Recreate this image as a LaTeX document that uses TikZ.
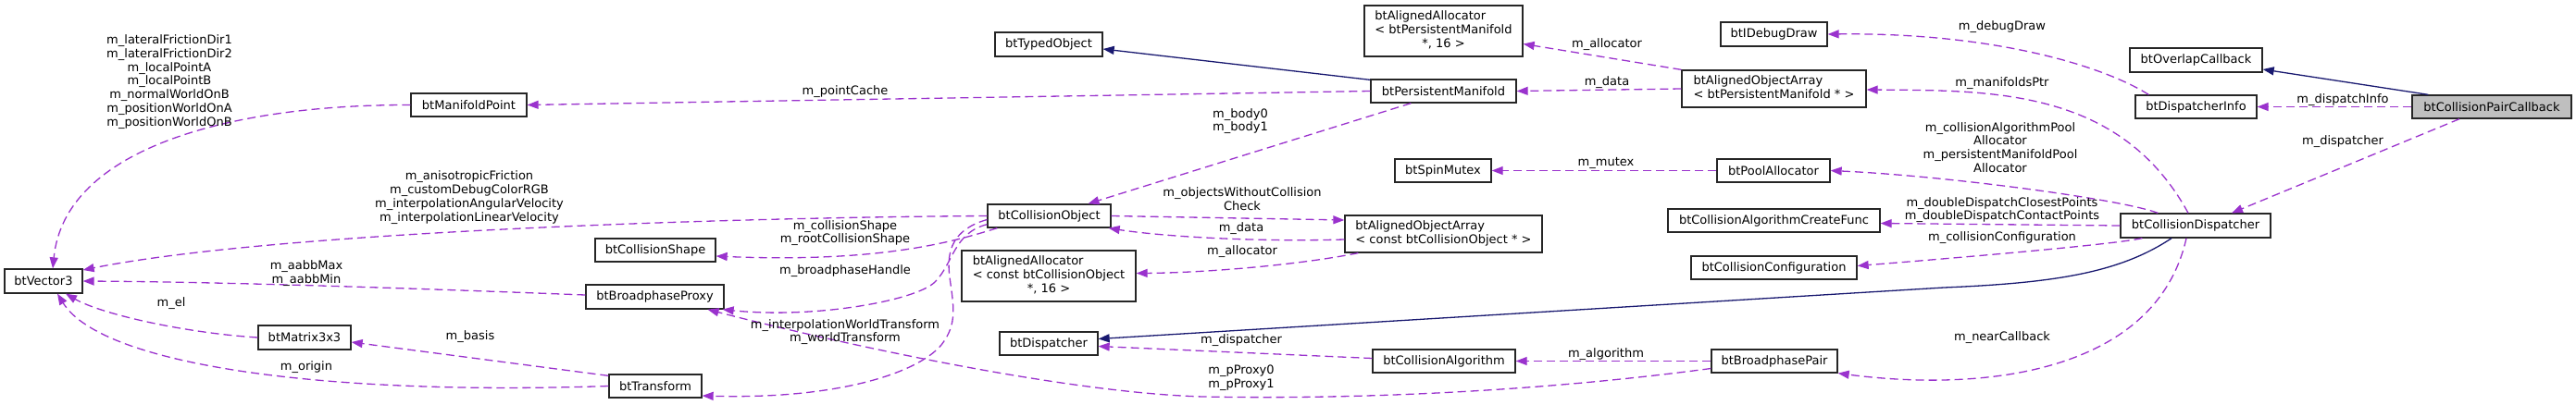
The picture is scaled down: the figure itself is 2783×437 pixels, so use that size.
\documentclass[tikz,border=0pt]{standalone}
\usepackage{fontspec}
\setmainfont{DejaVu Sans}
\usetikzlibrary{arrows.meta,calc}
\definecolor{depcol}{HTML}{9A32CD}
\definecolor{inhcol}{HTML}{191970}
\definecolor{rootfill}{HTML}{BFBFBF}
\newcommand{\dfont}{\fontsize{13}{14.8}\selectfont}
\begin{document}
\begin{tikzpicture}[x=1pt,y=-1pt,
  cls/.style={draw=black!85, fill=white, line width=1.3pt, inner sep=0pt, font=\dfont, minimum height=25pt},
  rootcls/.style={cls, fill=rootfill},
  dep/.style={color=depcol, line width=1.3pt, dash pattern=on 9pt off 5pt, -{Triangle[length=12pt,width=9pt]}},
  inh/.style={color=inhcol, line width=1.3pt, -{Triangle[length=12pt,width=9pt]}},
  lbl/.style={font=\dfont, align=center, inner sep=0pt}]
\useasboundingbox (0,0) rectangle (2783,437);

% classes
\node[cls, minimum width=84pt, minimum height=26pt] (vec) at (47,304) {btVector3};
\node[cls, minimum width=125pt] (mp) at (506.5,113.5) {btManifoldPoint};
\node[cls, minimum width=100pt, minimum height=26pt] (mat) at (329,365) {btMatrix3x3};
\node[cls, minimum width=100pt] (tr) at (708,417.5) {btTransform};
\node[cls, minimum width=149pt, minimum height=26pt] (bp) at (707.5,321) {btBroadphaseProxy};
\node[cls, minimum width=130pt] (cs) at (708,270.5) {btCollisionShape};
\node[cls, minimum width=133pt] (co) at (1133.5,233.5) {btCollisionObject};
\node[cls, minimum width=116pt, minimum height=26pt] (to) at (1133,48) {btTypedObject};
\node[cls, minimum width=188pt, minimum height=55pt] (aacol) at (1133,298.5)
  {\begin{tabular}{@{}l@{}}btAlignedAllocator\\< const btCollisionObject\\\multicolumn{1}{@{}c@{}}{*, 16 >}\end{tabular}};
\node[cls, minimum width=106pt] (disp) at (1133,371.5) {btDispatcher};
\node[cls, minimum width=157pt] (pm) at (1559.5,98.5) {btPersistentManifold};
\node[cls, minimum width=171pt, minimum height=55pt] (aapm) at (1559.5,33.5)
  {\begin{tabular}{@{}l@{}}btAlignedAllocator\\< btPersistentManifold\\\multicolumn{1}{@{}c@{}}{*, 16 >}\end{tabular}};
\node[cls, minimum width=104pt] (sm) at (1559,184.5) {btSpinMutex};
\node[cls, minimum width=213pt, minimum height=40pt] (oacol) at (1559.5,253)
  {\begin{tabular}{@{}l@{}}btAlignedObjectArray\\< const btCollisionObject * >\end{tabular}};
\node[cls, minimum width=154pt] (ca) at (1560,390.5) {btCollisionAlgorithm};
\node[cls, minimum width=115pt, minimum height=26pt] (dd) at (1916.5,37) {btIDebugDraw};
\node[cls, minimum width=199pt, minimum height=40pt] (oapm) at (1916.5,96)
  {\begin{tabular}{@{}l@{}}btAlignedObjectArray\\< btPersistentManifold * >\end{tabular}};
\node[cls, minimum width=122pt] (pa) at (1916,184.5) {btPoolAllocator};
\node[cls, minimum width=229pt] (cacf) at (1916.5,238.5) {btCollisionAlgorithmCreateFunc};
\node[cls, minimum width=179pt] (cc) at (1916.5,289.5) {btCollisionConfiguration};
\node[cls, minimum width=136pt] (bpp) at (1917,390.5) {btBroadphasePair};
\node[cls, minimum width=143pt, minimum height=26pt] (oc) at (2372.5,65) {btOverlapCallback};
\node[cls, minimum width=131pt] (di) at (2372.5,115.5) {btDispatcherInfo};
\node[cls, minimum width=162pt, minimum height=26pt] (cd) at (2372,244) {btCollisionDispatcher};
\node[rootcls, minimum width=172pt] (cpc) at (2692,115.5) {btCollisionPairCallback};

% connectors
\draw[inh] ($(cpc.north west)+(18,0)$) -- ($(oc.east)+(0,10)$);
\draw[dep] (cpc.west) -- (di.east);
\draw[dep] ($(cpc.south)+(-35,0)$) -- ($(cd.north)+(39,0)$);
\draw[dep] ($(di.north west)+(15,0)$) .. controls (2270,70) and (2150,35) .. (dd.east);
\draw[dep] ($(cd.north)+(-8,0)$) .. controls (2290,95) and (2150,98) .. ($(oapm.east)+(0,1)$);
\draw[dep] ($(cd.north west)+(41,0)$) .. controls (2290,215) and (2100,190) .. (pa.east);
\draw[dep] (cd.west) -- ($(cacf.east)+(0,3)$);
\draw[dep] ($(cd.south west)+(24,0)$) .. controls (2280,265) and (2100,280) .. ($(cc.east)+(0,-2)$);
\draw[inh] ($(cd.south)+(-26,0)$) .. controls (2290,295) and (2220,306) .. (2100,311) -- ($(disp.east)+(0,-5)$);
\draw[dep] ($(cd.south)+(-10,0)$) .. controls (2330,400) and (2150,425) .. (bpp.south east);
\draw[dep] (oapm.north west) -- ($(aapm.east)+(0,14)$);
\draw[dep] (oapm.west) -- (pm.east);
\draw[dep] (pa.west) -- (sm.east);
\draw[dep] (bpp.west) -- (ca.east);
\draw[dep] ($(ca.west)+(0,-3)$) -- ($(disp.east)+(0,3)$);
\draw[dep] ($(bpp.west)+(0,8)$) .. controls (1650,425) and (1450,432) .. (1300,429) .. controls (1150,425) and (900,370) .. ($(bp.south)+(57,0)$);
\draw[dep] ($(co.south west)+(11,0)$) .. controls (1040,258) and (960,285) .. ($(cs.east)+(0,6.5)$);
\draw[dep] ($(co.south west)+(0,-4)$) .. controls (1030,252) and (1030,285) .. (1010,305) .. controls (990,325) and (880,345) .. ($(bp.south east)+(-2,0)$);
\draw[dep] ($(co.west)+(0,4)$) .. controls (1030,248) and (1022,270) .. (1026,300) .. controls (1030,330) and (1035,350) .. (1017,373) .. controls (990,405) and (900,432) .. ($(tr.east)+(0,10.5)$);
\draw[dep] (co.west) .. controls (800,235) and (300,250) .. ($(vec.east)+(0,-12)$);
\draw[dep] ($(bp.west)+(0,-2)$) .. controls (450,312) and (250,305) .. (vec.east);
\draw[dep] (mat.west) .. controls (200,360) and (110,340) .. ($(vec.south)+(24,0)$);
\draw[dep] (tr.west) .. controls (350,428) and (110,395) .. ($(vec.south)+(15,0)$);
\draw[dep] ($(tr.north west)+(0,2)$) -- ($(mat.east)+(0,5)$);
\draw[dep] (mp.west) .. controls (250,113) and (70,160) .. ($(vec.north)+(10,0)$);
\draw[dep] (pm.west) -- (mp.east);
\draw[inh] ($(pm.north west)+(0,1)$) -- ($(to.east)+(0,5)$);
\draw[dep] ($(pm.south west)+(44,0)$) -- ($(co.north)+(42,0)$);
\draw[dep] (co.east) -- ($(oacol.west)+(0,-15)$);
\draw[dep] ($(oacol.west)+(0,6)$) .. controls (1350,262) and (1250,255) .. ($(co.south east)+(-3,0)$);
\draw[dep] ($(oacol.south west)+(15,0)$) .. controls (1400,287) and (1300,295) .. ($(aacol.east)+(0,-3)$);

% labels
\node[lbl] (l1) at (183,88.5) {m\_lateralFrictionDir1\\m\_lateralFrictionDir2\\m\_localPointA\\m\_localPointB\\m\_normalWorldOnB\\m\_positionWorldOnA\\m\_positionWorldOnB};
\node[lbl] (l2) at (507,213.5) {m\_anisotropicFriction\\m\_customDebugColorRGB\\m\_interpolationAngularVelocity\\m\_interpolationLinearVelocity};
\node[lbl] (l3) at (331,295.5) {m\_aabbMax\\m\_aabbMin};
\node[lbl] (l4) at (185,328) {m\_el};
\node[lbl] (l5) at (508,364) {m\_basis};
\node[lbl] (l6) at (331,397) {m\_origin};
\node[lbl] (l7) at (913,99) {m\_pointCache};
\node[lbl] (l8) at (913,252) {m\_collisionShape\\m\_rootCollisionShape};
\node[lbl] (l9) at (913,293) {m\_broadphaseHandle};
\node[lbl] (l10) at (913,359) {m\_interpolationWorldTransform\\m\_worldTransform};
\node[lbl] (l11) at (1340,131) {m\_body0\\m\_body1};
\node[lbl] (l12) at (1342,215.5) {m\_objectsWithoutCollision\\Check};
\node[lbl] (l13) at (1341,247) {m\_data};
\node[lbl] (l14) at (1342,272) {m\_allocator};
\node[lbl] (l15) at (1341,368) {m\_dispatcher};
\node[lbl] (l16) at (1341,408.5) {m\_pProxy0\\m\_pProxy1};
\node[lbl] (l17) at (1736,48) {m\_allocator};
\node[lbl] (l18) at (1736,89) {m\_data};
\node[lbl] (l19) at (1735,176) {m\_mutex};
\node[lbl] (l20) at (1735,383) {m\_algorithm};
\node[lbl] (l21) at (2163,29) {m\_debugDraw};
\node[lbl] (l22) at (2163,90) {m\_manifoldsPtr};
\node[lbl] (l23) at (2161,159.5) {m\_collisionAlgorithmPool\\Allocator\\m\_persistentManifoldPool\\Allocator};
\node[lbl] (l24) at (2163,227) {m\_doubleDispatchClosestPoints\\m\_doubleDispatchContactPoints};
\node[lbl] (l25) at (2163,257) {m\_collisionConfiguration};
\node[lbl] (l26) at (2163,365) {m\_nearCallback};
\node[lbl] (l27) at (2531,108) {m\_dispatchInfo};
\node[lbl] (l28) at (2531,153) {m\_dispatcher};
\end{tikzpicture}
\end{document}
